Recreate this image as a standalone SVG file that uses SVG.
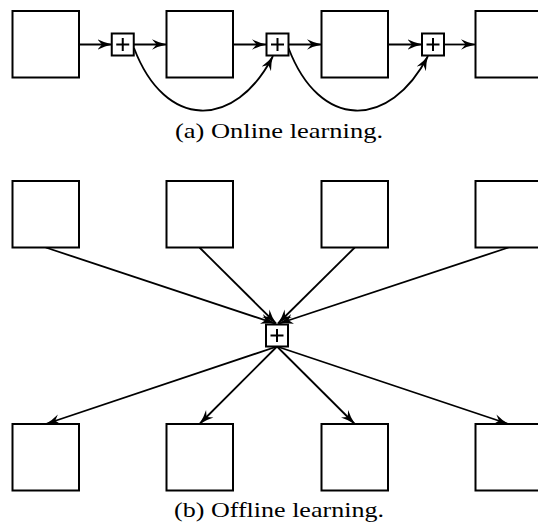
<svg xmlns="http://www.w3.org/2000/svg" width="538" height="529" viewBox="0 0 538 529">
<style>
.box{fill:#fff;stroke:#000;stroke-width:2}
.plus{fill:#fff;stroke:#000;stroke-width:2}
.cross{stroke:#000;stroke-width:2;fill:none}
.edge{stroke:#000;stroke-width:1.8;fill:none;marker-end:url(#arr)}
.cap{font-family:"Liberation Serif",serif;font-size:22px;fill:#000;text-anchor:middle}
</style>
<defs>
<marker id="arr" markerUnits="userSpaceOnUse" viewBox="0 0 15 11" refX="14.5" refY="5.5" markerWidth="15" markerHeight="11" orient="auto">
<path d="M0,0.3 Q7,4 15,5.5 Q7,7 0,10.7 L4.5,5.5 Z" fill="#000"/>
</marker>
<symbol id="p" overflow="visible">
<rect class="plus" x="-11" y="-11" width="22" height="22"/>
<path class="cross" d="M-6.5,0 H6.5 M0,-6.5 V6.5"/>
</symbol>
</defs>
<g id="connectors">
<line class="edge" x1="79" y1="44.5" x2="112" y2="44.5"/>
<line class="edge" x1="133.5" y1="44.5" x2="166.5" y2="44.5"/>
<line class="edge" x1="232.5" y1="44.5" x2="266.5" y2="44.5"/>
<line class="edge" x1="288.5" y1="44.5" x2="321.5" y2="44.5"/>
<line class="edge" x1="388" y1="44.5" x2="422" y2="44.5"/>
<line class="edge" x1="444" y1="44.5" x2="475.5" y2="44.5"/>
<path class="edge" d="M134,48 C165,130 235,130 273,56"/>
<path class="edge" d="M288.5,48 C319.5,130 389.5,130 428,56"/>
<line class="edge" x1="45.75" y1="247.5" x2="275" y2="323.5"/>
<line class="edge" x1="199.5" y1="247.5" x2="276" y2="323.5"/>
<line class="edge" x1="354.75" y1="247.5" x2="278" y2="323.5"/>
<line class="edge" x1="508.5" y1="247.5" x2="279" y2="323.5"/>
<line class="edge" x1="277" y1="346.5" x2="45.75" y2="424"/>
<line class="edge" x1="277" y1="346.5" x2="199.5" y2="424"/>
<line class="edge" x1="277" y1="346.5" x2="354.75" y2="424"/>
<line class="edge" x1="277" y1="346.5" x2="508.5" y2="424"/>
</g>
<g id="online">
<g id="a_n1"><rect class="box" x="12.5" y="11" width="66.5" height="66.5"/></g>
<g id="a_p1"><use href="#p" x="122.75" y="44.5"/></g>
<g id="a_n2"><rect class="box" x="166.5" y="11" width="66.5" height="66.5"/></g>
<g id="a_p2"><use href="#p" x="277.5" y="44.5"/></g>
<g id="a_n3"><rect class="box" x="321.5" y="11" width="66.5" height="66.5"/></g>
<g id="a_p3"><use href="#p" x="433" y="44.5"/></g>
<g id="a_n4"><rect class="box" x="475.5" y="11" width="66.5" height="66.5"/></g>
</g>
<g id="offline">
<g id="b_t1"><rect class="box" x="12.5" y="181" width="66.5" height="66.5"/></g>
<g id="b_t2"><rect class="box" x="166.5" y="181" width="66.5" height="66.5"/></g>
<g id="b_t3"><rect class="box" x="321.5" y="181" width="66.5" height="66.5"/></g>
<g id="b_t4"><rect class="box" x="475.5" y="181" width="66.5" height="66.5"/></g>
<g id="b_p"><use href="#p" x="277" y="335.5"/></g>
<g id="b_b1"><rect class="box" x="12.5" y="424" width="66.5" height="66.5"/></g>
<g id="b_b2"><rect class="box" x="166.5" y="424" width="66.5" height="66.5"/></g>
<g id="b_b3"><rect class="box" x="321.5" y="424" width="66.5" height="66.5"/></g>
<g id="b_b4"><rect class="box" x="475.5" y="424" width="66.5" height="66.5"/></g>
</g>
<text class="cap" x="279" y="138" textLength="208" lengthAdjust="spacingAndGlyphs">(a) Online learning.</text>
<text class="cap" x="279" y="517" textLength="210" lengthAdjust="spacingAndGlyphs">(b) Offline learning.</text>
</svg>
